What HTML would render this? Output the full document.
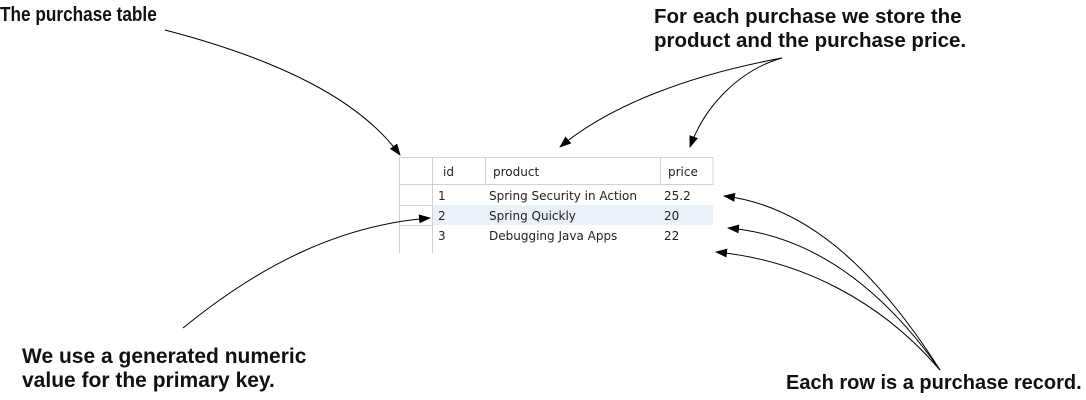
<!DOCTYPE html>
<html><head><style>
body{margin:0;width:1086px;height:400px;background:#fff;position:relative;overflow:hidden;font-family:"Liberation Sans",sans-serif}
.t{position:absolute;font-weight:bold;font-size:20px;line-height:24px;color:#111;white-space:nowrap}
.c{position:absolute;font-family:"DejaVu Sans","Liberation Sans",sans-serif;font-size:12px;color:#222}
</style></head><body>
<div class="t" style="left:0;top:3px;font-size:20px;transform:scaleX(0.86);transform-origin:0 0">The purchase table</div>
<div class="t" style="left:654px;top:5px;font-size:20.5px">For each purchase we store the<br>product and the purchase price.</div>
<div class="t" style="left:22px;top:345px;font-size:21px">We use a generated numeric<br>value for the primary key.</div>
<div class="t" style="left:786px;top:371px;font-size:20px">Each row is a purchase record.</div>
<svg width="1086" height="400" style="position:absolute;left:0;top:0">
<defs><marker id="a" markerWidth="12" markerHeight="9" refX="11" refY="4.5" orient="auto" markerUnits="userSpaceOnUse"><path d="M0,0L12,4.5L0,9z" fill="#000"/></marker></defs>
<rect x="399" y="157" width="314" height="96" fill="#fff"/>
<rect x="432" y="205" width="281" height="20" fill="#eaf1f8"/>
<g stroke="#d0d0d0" stroke-width="1" fill="none">
<line x1="399.5" y1="157" x2="399.5" y2="253"/>
<line x1="432.5" y1="157" x2="432.5" y2="253"/>
<line x1="485.5" y1="157" x2="485.5" y2="185"/>
<line x1="660.5" y1="157" x2="660.5" y2="185"/>
<line x1="399" y1="157.5" x2="713" y2="157.5"/>
<line x1="399" y1="184.5" x2="713" y2="184.5"/>
<line x1="713" y1="157" x2="713" y2="185"/>
<line x1="399" y1="205.5" x2="432" y2="205.5"/>
<line x1="399" y1="225.5" x2="432" y2="225.5"/>
</g>
<g fill="none" stroke="#000" stroke-width="1" marker-end="url(#a)">
<path d="M165,30 C280,60 360,100 400,155"/>
<path d="M782,58 C690,75 610,105 560,147"/>
<path d="M782,58 C740,70 705,105 690,147"/>
<path d="M183,328 C260,265 340,225 430,218"/>
<path d="M940,370 C870,260 800,205 724,196"/>
<path d="M940,370 C880,285 810,235 728,228"/>
<path d="M940,370 C880,300 800,260 716,252"/>
</g>
</svg>
<div class="c" style="left:443px;top:165px">id</div>
<div class="c" style="left:493px;top:165px">product</div>
<div class="c" style="left:668px;top:165px">price</div>
<div class="c" style="left:438px;top:189px">1</div>
<div class="c" style="left:489px;top:189px">Spring Security in Action</div>
<div class="c" style="left:664px;top:189px">25.2</div>
<div class="c" style="left:438px;top:209px">2</div>
<div class="c" style="left:489px;top:209px">Spring Quickly</div>
<div class="c" style="left:664px;top:209px">20</div>
<div class="c" style="left:438px;top:229px">3</div>
<div class="c" style="left:489px;top:229px">Debugging Java Apps</div>
<div class="c" style="left:664px;top:229px">22</div>
</body></html>
